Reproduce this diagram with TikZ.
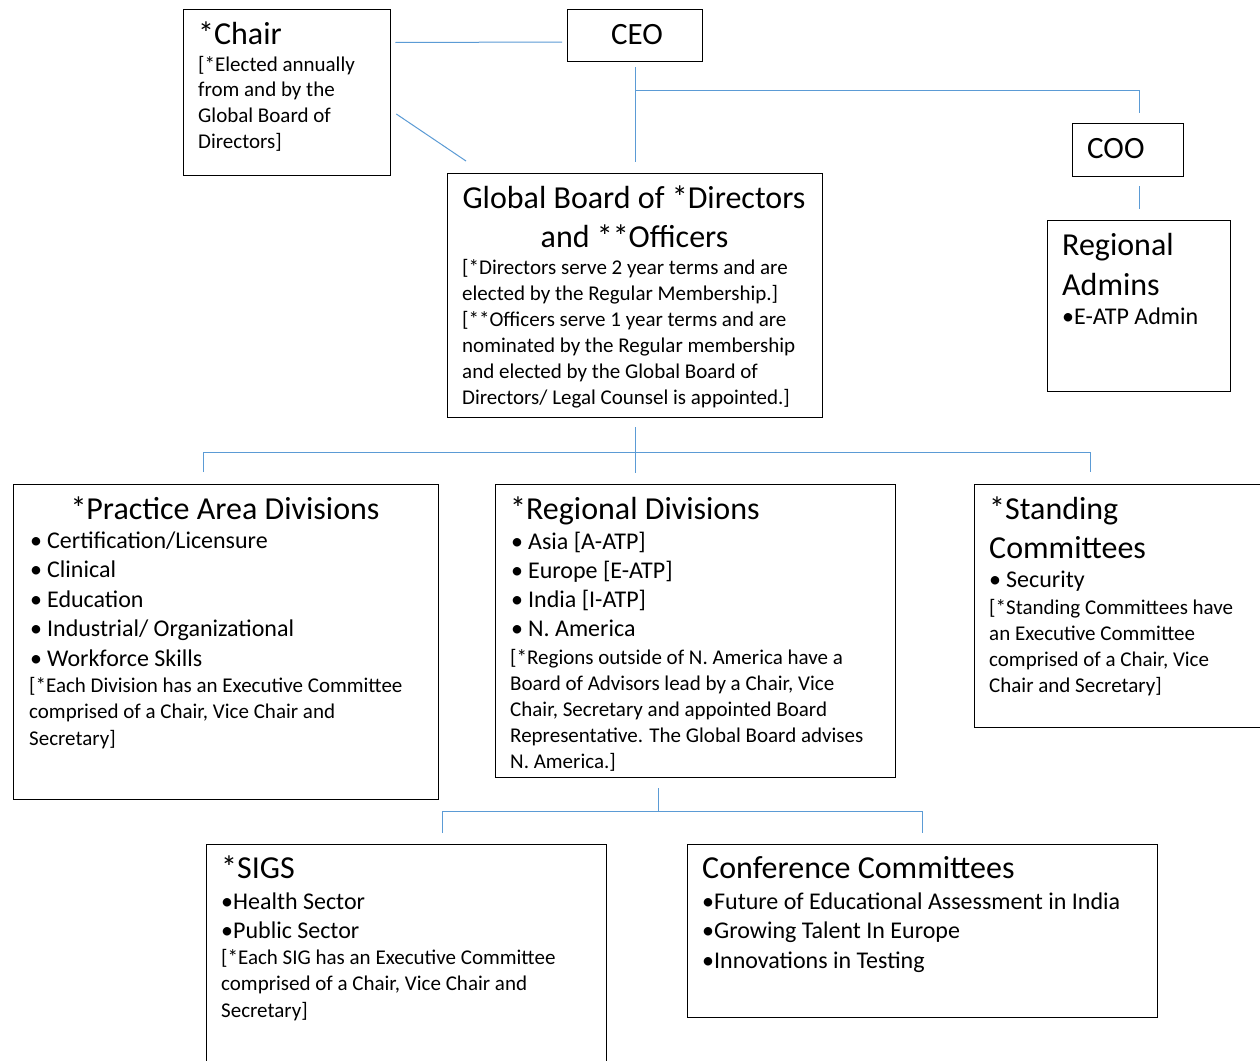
\documentclass[tikz,border=0pt]{standalone}
\usepackage{fontspec}
\setmainfont{Carlito}
\usetikzlibrary{positioning}
\definecolor{connblue}{RGB}{91,155,213}
\newcommand\hdf{\fontsize{32}{39}\selectfont}
\newcommand\ceof{\fontsize{31}{38}\selectfont}
\newcommand\blf{\fontsize{24}{29}\selectfont}
\newcommand\bdf{\fontsize{21}{26}\selectfont}
\tikzset{
  orgbox/.style={draw=black, line width=1.3pt, fill=none, inner sep=0pt, anchor=north west},
  conn/.style={draw=connblue, line width=1pt},
  hd/.style={anchor=base west, inner sep=0pt, font=\hdf},
  hdc/.style={anchor=base, inner sep=0pt, font=\hdf},
  bl/.style={anchor=base west, inner sep=0pt, font=\blf},
  bd/.style={anchor=base west, inner sep=0pt, font=\bdf},
}
\begin{document}
\begin{tikzpicture}[x=1pt,y=-1pt]
\clip (0,0) rectangle (1260,1060);
\fill[white] (0,0) rectangle (1260,1060);

% boxes
\node[orgbox, minimum width=207pt, minimum height=166pt] (chair) at (183,9) {};
\node[orgbox, minimum width=135pt, minimum height=52pt] (ceo) at (567,9) {};
\node[orgbox, minimum width=375pt, minimum height=244pt] (gb) at (447,173) {};
\node[orgbox, minimum width=111pt, minimum height=53pt] (coo) at (1072,123) {};
\node[orgbox, minimum width=183pt, minimum height=171pt] (ra) at (1047,220) {};
\node[orgbox, minimum width=425pt, minimum height=315pt] (pa) at (13,484) {};
\node[orgbox, minimum width=400pt, minimum height=293pt] (rd) at (495,484) {};
\node[orgbox, minimum width=300pt, minimum height=243pt] (sc) at (974,484) {};
\node[orgbox, minimum width=400pt, minimum height=230pt] (sig) at (206,844) {};
\node[orgbox, minimum width=470pt, minimum height=173pt] (cc) at (687,844) {};

% Chair text
\node[hd] (chairT) at (198,44) {*Chair};
\foreach \t [count=\i from 0] in {{[*Elected annually},{from and by the},{Global Board of},{Directors]}}
  \node[bd] (chairL\i) at (198,71+25.7*\i) {\t};

% CEO / COO
\node[anchor=base, inner sep=0pt, font=\ceof] (ceoT) at (637,44) {CEO};
\node[anchor=base west, inner sep=0pt, font=\ceof] (cooT) at (1087,158) {COO};

% Global board
\node[hdc] (gbT1) at (634,208) {Global Board of *Directors};
\node[hdc] (gbT2) at (634.5,247) {and **Officers};
\foreach \t [count=\i from 0] in {{[*Directors serve 2 year terms and are},{elected by the Regular Membership.]},{[**Officers serve 1 year terms and are},{nominated by the Regular membership},{and elected by the Global Board of},{Directors/ Legal Counsel is appointed.]}}
  \node[bd] (gbL\i) at (462,274+26*\i) {\t};

% Regional admins
\node[hd] (raT1) at (1062,255) {Regional};
\node[hd] (raT2) at (1062,295) {Admins};
\node[bl] (raL) at (1062,324) {•E-ATP Admin};

% Practice area
\node[hdc] (paT) at (225,519) {*Practice Area Divisions};
\foreach \t [count=\i from 0] in {{Certification/Licensure},{Clinical},{Education},{Industrial/ Organizational},{Workforce Skills}}
  \node[bl] (paB\i) at (30,548+29.5*\i) {•\hspace{5pt}\t};
\foreach \t [count=\i from 0] in {{[*Each Division has an Executive Committee},{comprised of a Chair, Vice Chair and},{Secretary]}}
  \node[bd] (paL\i) at (29,692+26.5*\i) {\t};

% Regional divisions
\node[hd] (rdT) at (510,519) {*Regional Divisions};
\foreach \t [count=\i from 0] in {{Asia [A-ATP]},{Europe [E-ATP]},{India [I-ATP]},{N. America}}
  \node[bl] (rdB\i) at (511,549+29.3*\i) {•\hspace{5pt}\t};
\foreach \t [count=\i from 0] in {{[*Regions outside of N. America have a},{Board of Advisors lead by a Chair, Vice},{Chair, Secretary and appointed Board},{Representative. The Global Board advises},{N. America.]}}
  \node[bd] (rdL\i) at (510,664+26*\i) {\t};

% Standing committees
\node[hd] (scT1) at (989,519) {*Standing};
\node[hd] (scT2) at (989,558) {Committees};
\node[bl] (scB) at (989,587) {•\hspace{5pt}Security};
\foreach \t [count=\i from 0] in {{[*Standing Committees have},{an Executive Committee},{comprised of a Chair, Vice},{Chair and Secretary]}}
  \node[bd] (scL\i) at (989,614+26*\i) {\t};

% SIGS
\node[hd] (sigT) at (221,878) {*SIGS};
\node[bl] (sigB0) at (221,909) {•Health Sector};
\node[bl] (sigB1) at (221,938) {•Public Sector};
\foreach \t [count=\i from 0] in {{[*Each SIG has an Executive Committee},{comprised of a Chair, Vice Chair and},{Secretary]}}
  \node[bd] (sigL\i) at (221,964+26.5*\i) {\t};

% Conference committees
\node[hd] (ccT) at (702,878) {Conference Committees};
\foreach \t [count=\i from 0] in {{Future of Educational Assessment in India},{Growing Talent In Europe},{Innovations in Testing}}
  \node[bl] (ccB\i) at (702,909+29.5*\i) {•\t};

% connectors
\draw[conn] ([shift={(4,33.5)}]chair.north east) -- ([shift={(-5,33)}]ceo.north west);
\draw[conn] ([shift={(5,105)}]chair.north east) -- ([shift={(19,-12)}]gb.north west);
\draw[conn] ([shift={(0,5)}]ceo.south) -- ([shift={(0,-11)}]gb.north);
\draw[conn] ([shift={(0,28)}]ceo.south) -| ([shift={(11,-10)}]coo.north);
\draw[conn] ([shift={(11,9)}]coo.south) -- ([shift={(0,-11)}]ra.north);
\draw[conn] ([shift={(0,9)}]gb.south) -- ([shift={(0,55)}]gb.south);
\draw[conn] ([shift={(-22.5,-12)}]pa.north) |- ([shift={(0,34)}]gb.south) -| ([shift={(116,-12)}]sc.north west);
\draw[conn] ([shift={(-37,10)}]rd.south) -- ([shift={(-37,33)}]rd.south);
\draw[conn] ([shift={(36,-11)}]sig.north) |- ([shift={(-37,33)}]rd.south) -| ([shift={(0,-11)}]cc.north);
\end{tikzpicture}
\end{document}
